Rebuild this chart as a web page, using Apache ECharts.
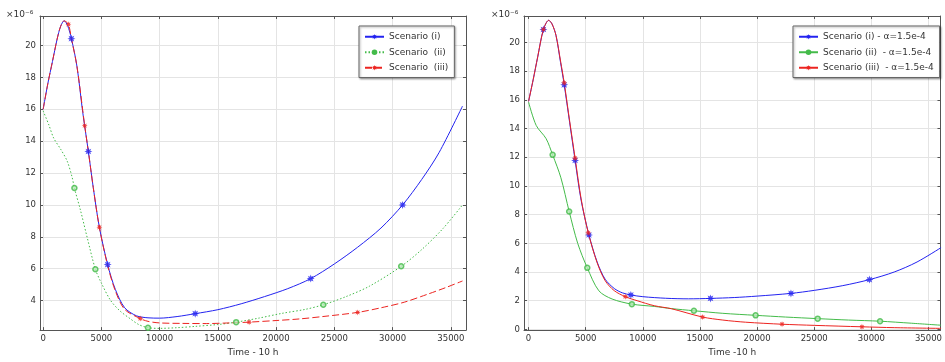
<!DOCTYPE html>
<html>
<head>
<meta charset="utf-8">
<script src="https://cdn.jsdelivr.net/npm/echarts@6/dist/echarts.min.js"></script>
<style>
html, body { margin: 0; padding: 0; background: #fff; }
#main { width: 945px; height: 362px; }
</style>
</head>
<body>
<div id="main"></div>
<script>
// tick labels
var xTicks = [0, 5000, 10000, 15000, 20000, 25000, 30000, 35000];
var yTicksLeft = [4, 6, 8, 10, 12, 14, 16, 18, 20];
var yTicksRight = [0, 2, 4, 6, 8, 10, 12, 14, 16, 18, 20];

var leftNames = ['Scenario (i)', 'Scenario  (ii)', 'Scenario  (iii)'];
var rightNames = ['Scenario (i) - α=1.5e-4', 'Scenario (ii)  - α=1.5e-4', 'Scenario (iii)  - α=1.5e-4'];

// left panel curves (x: time, y: x10^-6)
var leftLine1 = [[0,16.0],[400,17.6],[800,19.0],[1200,20.4],[1500,21.2],[1800,21.55],[2100,21.25],[2426,20.43],[2900,18.7],[3400,15.8],[3883,13.35],[4300,11.1],[4826,8.6],[5537,6.26],[6200,4.7],[7000,3.55],[8000,3.05],[9000,2.92],[10000,2.9],[11500,3.0],[13054,3.18],[15000,3.43],[17000,3.8],[19000,4.25],[21000,4.75],[22970,5.38],[25000,6.3],[27000,7.35],[29000,8.55],[30857,10.0],[32500,11.6],[34000,13.3],[36000,16.2]];
var leftLine2 = [[0,15.9],[500,15.0],[900,14.2],[1500,13.5],[2057,12.76],[2486,11.74],[2683,11.06],[3197,9.69],[3800,7.9],[4483,5.97],[5000,5.1],[5800,4.0],[6600,3.35],[7500,2.85],[8200,2.5],[9000,2.3],[10000,2.26],[11500,2.3],[13000,2.38],[15000,2.5],[16570,2.65],[18500,2.9],[20500,3.2],[22500,3.45],[24050,3.74],[26000,4.25],[28000,4.9],[30737,6.15],[32500,7.2],[34300,8.5],[36000,10.0]];
var leftLine3 = [[0,16.0],[400,17.6],[800,19.0],[1200,20.4],[1500,21.2],[1800,21.55],[2169,21.33],[2426,20.43],[2900,18.7],[3566,14.98],[3883,13.35],[4300,11.1],[4826,8.6],[5537,6.2],[6200,4.6],[7000,3.45],[8340,2.87],[9000,2.7],[10000,2.6],[12000,2.57],[14000,2.56],[16000,2.6],[17683,2.65],[20000,2.75],[22000,2.85],[24000,3.0],[27000,3.26],[29000,3.55],[31000,3.9],[33000,4.4],[34500,4.8],[36000,5.23]];
var leftMark1 = [[2426,20.43],[3883,13.35],[5537,6.26],[13054,3.18],[22970,5.38],[30857,10.0]];
var leftMark2 = [[2683,11.06],[4483,5.97],[9000,2.3],[16570,2.65],[24050,3.74],[30737,6.15]];
var leftMark3 = [[2169,21.33],[3566,14.98],[4826,8.6],[8340,2.87],[17683,2.65],[27000,3.26]];

// right panel curves
var rightLine1 = [[0,15.9],[400,17.4],[800,19.0],[1300,20.91],[1762,21.55],[2050,21.3],[2400,20.5],[2800,18.6],[3120,17.05],[3600,14.4],[4073,11.78],[4600,9.0],[5286,6.58],[6000,4.7],[6700,3.5],[7500,2.85],[8200,2.55],[8952,2.4],[10000,2.28],[12000,2.17],[14000,2.13],[15919,2.16],[18000,2.22],[20000,2.32],[22964,2.51],[25000,2.72],[27500,3.05],[29835,3.47],[32000,4.0],[34000,4.7],[36100,5.7]];
var rightLine2 = [[0,15.85],[667,14.22],[1534,13.3],[2106,12.17],[2830,10.57],[3553,8.22],[4300,6.0],[5139,4.29],[6152,2.69],[7305,2.12],[9040,1.76],[11000,1.6],[12500,1.45],[14471,1.3],[17000,1.12],[19870,0.98],[22500,0.86],[25303,0.75],[28000,0.65],[30763,0.57],[33500,0.43],[36100,0.29]];
var rightLine3 = [[0,15.9],[400,17.4],[800,19.0],[1300,20.91],[1762,21.55],[2050,21.3],[2400,20.5],[2800,18.7],[3120,17.19],[3600,14.5],[4073,11.94],[4600,9.1],[5225,6.73],[6000,4.65],[6700,3.4],[7500,2.7],[8466,2.28],[9500,2.0],[11000,1.65],[12500,1.44],[15225,0.86],[17000,0.65],[19000,0.5],[22184,0.36],[25000,0.28],[29177,0.18],[32000,0.12],[36100,0.07]];
var rightMark1 = [[1300,20.91],[3120,17.05],[4073,11.78],[5286,6.58],[8952,2.4],[15919,2.16],[22964,2.51],[29835,3.47]];
var rightMark2 = [[2106,12.17],[3553,8.22],[5139,4.29],[9040,1.76],[14471,1.3],[19870,0.98],[25303,0.75],[30763,0.57]];
var rightMark3 = [[1300,20.91],[3120,17.19],[4073,11.94],[5225,6.73],[8466,2.28],[15225,0.86],[22184,0.36],[29177,0.18]];

var BLUE = '#2323f0';
var GREEN = '#44bb4a';
var RED = '#ec2420';
// fat 8-point star, close to the asterisk markers of the original
var STAR = 'path://M0,-10 L1.91,-4.62 L7.07,-7.07 L4.62,-1.91 L10,0 L4.62,1.91 L7.07,7.07 L1.91,4.62 L0,10 L-1.91,4.62 L-7.07,7.07 L-4.62,1.91 L-10,0 L-4.62,-1.91 L-7.07,-7.07 L-1.91,-4.62 Z';
var AXIS_COLOR = '#555';
var FONT = 'DejaVu Sans';

function xAxisOf(grid, pos, min, max, label, name) {
    return {
        type: 'value', gridIndex: grid, position: pos, min: min, max: max,
        name: name, nameLocation: 'middle', nameGap: 14,
        nameTextStyle: { fontFamily: FONT, fontSize: 9, color: '#333' },
        axisLine: { show: true, onZero: false, lineStyle: { color: AXIS_COLOR, width: 1 } },
        axisTick: { show: true, inside: true, length: 3, customValues: xTicks, lineStyle: { color: AXIS_COLOR } },
        axisLabel: {
            show: label, margin: 4, customValues: xTicks,
            formatter: function (v) { return String(v); },
            fontFamily: FONT, fontSize: 8.5, color: '#333'
        },
        splitLine: { show: label, lineStyle: { color: '#e4e4e4', width: 1 } }
    };
}

function yAxisOf(grid, pos, min, max, ticks, label) {
    return {
        type: 'value', gridIndex: grid, position: pos, min: min, max: max,
        axisLine: { show: true, onZero: false, lineStyle: { color: AXIS_COLOR, width: 1 } },
        axisTick: { show: true, inside: true, length: 3, customValues: ticks, lineStyle: { color: AXIS_COLOR } },
        axisLabel: { show: label, margin: 4, customValues: ticks, fontFamily: FONT, fontSize: 8.5, color: '#333' },
        splitLine: { show: label, lineStyle: { color: '#e4e4e4', width: 1 } }
    };
}

function lineSeries(name, data, xi, yi, color, type, symbol, size) {
    return {
        name: name, type: 'line', xAxisIndex: xi, yAxisIndex: yi, data: data,
        smooth: 0.3, showSymbol: false, symbol: symbol, symbolSize: size,
        lineStyle: { color: color, width: 1, type: type },
        itemStyle: { color: color }
    };
}

function markSeries(name, data, xi, yi, color, symbol, size) {
    var ring = symbol === 'circle';
    return {
        name: name, type: 'scatter', xAxisIndex: xi, yAxisIndex: yi, data: data,
        symbol: symbol, symbolSize: size, z: 3,
        itemStyle: ring ? { color: '#b8e8b8', borderColor: color, borderWidth: 1.5 } : { color: color }
    };
}

function legendOf(left, names) {
    return {
        orient: 'vertical', left: left, top: 26,
        data: names, itemWidth: 19, itemHeight: 7, itemGap: 2,
        padding: [4, 6, 3, 5],
        backgroundColor: '#fff', borderColor: '#666', borderWidth: 1,
        shadowColor: 'rgba(0,0,0,0.35)', shadowBlur: 2, shadowOffsetX: 1, shadowOffsetY: 1,
        textStyle: { fontFamily: FONT, fontSize: 9, lineHeight: 13.5, color: '#333' },
        selectedMode: false
    };
}

var myChart = echarts.init(document.getElementById('main'), null, { renderer: 'canvas' });
myChart.setOption({
    animation: false,
    backgroundColor: '#fff',
    grid: [
        { left: 40, top: 16, width: 426, height: 320 },
        { left: 524, top: 16, width: 424, height: 319 }
    ],
    xAxis: [
        xAxisOf(0, 'bottom', -270, 36300, true, 'Time - 10 h'),
        xAxisOf(0, 'top', -270, 36300, false, ''),
        xAxisOf(1, 'bottom', -400, 36050, true, 'Time -10 h'),
        xAxisOf(1, 'top', -400, 36050, false, '')
    ],
    yAxis: [
        yAxisOf(0, 'left', 2.15, 21.85, yTicksLeft, true),
        yAxisOf(0, 'right', 2.15, 21.85, yTicksLeft, false),
        yAxisOf(1, 'left', -0.05, 21.85, yTicksRight, true),
        yAxisOf(1, 'right', -0.05, 21.85, yTicksRight, false)
    ],
    graphic: [
        { type: 'text', left: 6, top: 10, style: { text: '×10⁻⁶', fontFamily: FONT, fontSize: 9, fill: '#333' } },
        { type: 'text', left: 491, top: 10, style: { text: '×10⁻⁶', fontFamily: FONT, fontSize: 9, fill: '#333' } }
    ],
    legend: [legendOf(359, leftNames), legendOf(793, rightNames)],
    series: [
        lineSeries(leftNames[0], leftLine1, 0, 0, BLUE, 'solid', STAR, 8),
        lineSeries(leftNames[1], leftLine2, 0, 0, GREEN, [1.5, 2], 'circle', 5),
        lineSeries(leftNames[2], leftLine3, 0, 0, RED, [7, 3], STAR, 6),
        markSeries(leftNames[0], leftMark1, 0, 0, BLUE, STAR, 8),
        markSeries(leftNames[1], leftMark2, 0, 0, GREEN, 'circle', 5),
        markSeries(leftNames[2], leftMark3, 0, 0, RED, STAR, 6),
        lineSeries(rightNames[0], rightLine1, 2, 2, BLUE, 'solid', STAR, 8),
        lineSeries(rightNames[1], rightLine2, 2, 2, GREEN, 'solid', 'circle', 5),
        lineSeries(rightNames[2], rightLine3, 2, 2, RED, 'solid', STAR, 6),
        markSeries(rightNames[0], rightMark1, 2, 2, BLUE, STAR, 8),
        markSeries(rightNames[1], rightMark2, 2, 2, GREEN, 'circle', 5),
        markSeries(rightNames[2], rightMark3, 2, 2, RED, STAR, 6)
    ]
});
</script>
</body>
</html>
